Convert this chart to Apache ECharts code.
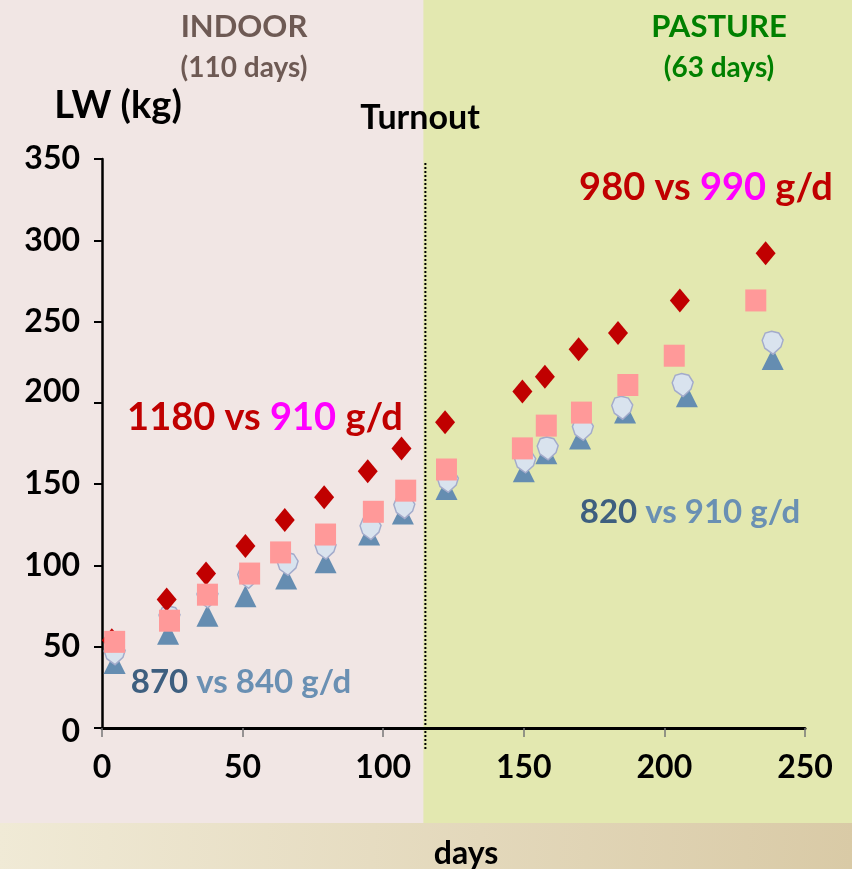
<!DOCTYPE html>
<html><head><meta charset="utf-8">
<script src="https://cdn.jsdelivr.net/npm/echarts@6/dist/echarts.min.js"></script>
<style>html,body{margin:0;padding:0;background:#f1e6e4}#c{width:852px;height:869px}</style>
</head><body><div id="c"></div><script>
// ---- data ----
const diamondDays = [3.5, 23, 37, 51, 65, 79, 94.5, 106.5, 122, 149.5, 157.5, 169.5, 183.5, 205.5, 236];
const diamondLW   = [54, 79, 95, 112, 128, 142, 158, 172, 188, 207, 216, 233, 243, 263, 292];
const squareDays  = [4.5, 24, 37.5, 52.5, 63.5, 79.5, 96.5, 108, 122.5, 149.5, 158, 170.5, 187, 203.5, 232.5];
const squareLW    = [53, 66, 82, 95, 108, 119, 133, 146, 159, 172, 186, 194, 211, 229, 263];
const triangleDays= [4.5, 23.5, 37.5, 51, 65.5, 79.5, 95, 107, 122.5, 150, 158, 170, 186, 208, 238.5];
const triangleLW  = [40, 58, 69, 81, 92, 102, 119, 132, 147, 158, 169, 178, 194, 204, 227];
const circleDays  = [4.5, 24, 37.5, 52, 66, 79.5, 95.5, 107.5, 123, 150.5, 158.5, 171, 185, 206.5, 238.5];
const circleLW    = [46, 68, 81, 93, 101, 111, 123, 136, 152, 164, 172, 184, 197, 211, 237];
const turnoutDay = 115;
const xTicks = [0, 50, 100, 150, 200, 250];
const yTicks = [0, 50, 100, 150, 200, 250, 300, 350];

const pair = (xs, ys) => xs.map((x, i) => [x, ys[i]]);
const FONT = 'Lato';
const pinPath = 'path://M45,0 L78,8 L98,38 L88,68 L52,100 L14,74 L2,40 L16,8 Z';

const chart = echarts.init(document.getElementById('c'), null, {renderer: 'canvas'});
const option = {
  animation: false,
  backgroundColor: 'transparent',
  grid: {left: 102, right: 47, top: 159, bottom: 141, containLabel: false},
  xAxis: {
    type: 'value', min: xTicks[0], max: xTicks[xTicks.length - 1], interval: 50,
    splitLine: {show: false},
    axisLine: {show: true, lineStyle: {color: '#000', width: 3}},
    axisTick: {show: true, inside: false, length: 9, lineStyle: {color: '#777', width: 1.5}},
    axisLabel: {color: '#000', fontFamily: FONT, fontWeight: 'bold', fontSize: 32, margin: 24}
  },
  yAxis: {
    type: 'value', min: yTicks[0], max: yTicks[yTicks.length - 1], interval: 50,
    splitLine: {show: false},
    axisLine: {show: true, lineStyle: {color: '#000', width: 2.5}},
    axisTick: {show: true, length: 8, lineStyle: {color: '#000', width: 2}},
    axisLabel: {color: '#000', fontFamily: FONT, fontWeight: 'bold', fontSize: 32, margin: 22,
      formatter: v => v === 200 ? '{up|' + v + '}' : (v === 0 ? '{dn|' + v + '}' : '' + v),
      rich: {up: {fontFamily: FONT, fontWeight: 'bold', fontSize: 32, color: '#000', padding: [0, 0, 22, 0]},
             dn: {fontFamily: FONT, fontWeight: 'bold', fontSize: 32, color: '#000', padding: [8, 0, 0, 0]}}}
  },
  series: [
    {type: 'scatter', name: 'tri', z: 2, symbol: 'triangle', symbolSize: [22, 22],
     itemStyle: {color: '#658db1', opacity: 1}, data: pair(triangleDays, triangleLW)},
    {type: 'scatter', name: 'pin', z: 3, symbol: pinPath, symbolSize: [21, 23],
     itemStyle: {color: '#d9e3ee', borderColor: '#a3abcb', borderWidth: 1.5, opacity: 1}, data: pair(circleDays, circleLW)},
    {type: 'scatter', name: 'dia', z: 4, symbol: 'diamond', symbolSize: [20, 24],
     itemStyle: {color: '#c00000', opacity: 1}, data: pair(diamondDays, diamondLW)},
    {type: 'scatter', name: 'sq', z: 5, symbol: 'rect', symbolSize: [21, 22],
     itemStyle: {color: '#ff9999', opacity: 1}, data: pair(squareDays, squareLW)}
  ]
};
chart.setOption(option);

const tx = chart.convertToPixel({xAxisIndex: 0}, turnoutDay);
const txt = (x, y, text, size, color, rich) => ({
  type: 'text', x: x, y: y, z: 100,
  style: {text: text, fontFamily: FONT, fontWeight: 'bold', fontSize: size, fill: color,
          align: 'center', verticalAlign: 'middle', rich: rich}
});
const r = (c, s) => ({fill: c, color: c, fontFamily: FONT, fontWeight: 'bold', fontSize: s});
chart.setOption({
  graphic: [
    {type: 'rect', z: -10, silent: true, shape: {x: 0, y: 0, width: tx - 2, height: 823}, style: {fill: '#f1e6e4'}},
    {type: 'rect', z: -10, silent: true, shape: {x: tx - 2, y: 0, width: 852 - tx + 2, height: 823}, style: {fill: '#e3e8b0'}},
    {type: 'rect', z: -10, silent: true, shape: {x: 0, y: 823, width: 852, height: 46},
     style: {fill: new echarts.graphic.LinearGradient(0, 0, 1, 1, [{offset: 0, color: '#f0ead6'}, {offset: 1, color: '#d9caa6'}])}},
    {type: 'line', z: 50, silent: true, shape: {x1: tx, y1: 163, x2: tx, y2: 750},
     style: {stroke: '#000', lineWidth: 2, lineDash: [2, 2]}},
    txt(244, 27, 'INDOOR', 31, '#6e5a54'),
    txt(244, 68, '(110 days)', 28, '#6e5a54'),
    txt(719, 27, 'PASTURE', 31, '#008000'),
    txt(719, 68, '(63 days)', 28, '#008000'),
    txt(118, 106, 'LW (kg)', 38, '#000'),
    txt(420, 118, 'Turnout', 34, '#000'),
    txt(466, 854, 'days', 32, '#000'),
    txt(706, 188, '{a|980 vs }{b|990}{a| g/d}', 38, '#c00000', {a: r('#c00000', 38), b: r('#ff00ff', 38)}),
    txt(265, 418, '{a|1180 vs }{b|910}{a| g/d}', 38, '#c00000', {a: r('#c00000', 38), b: r('#ff00ff', 38)}),
    txt(241, 682, '{a|870 }{b|vs 840 g/d}', 33, '#3e5f7f', {a: r('#3e5f7f', 33), b: r('#6a90b3', 33)}),
    txt(690, 512, '{a|820 }{b|vs 910 g/d}', 33, '#3e5f7f', {a: r('#3e5f7f', 33), b: r('#6a90b3', 33)})
  ]
});
</script></body></html>
